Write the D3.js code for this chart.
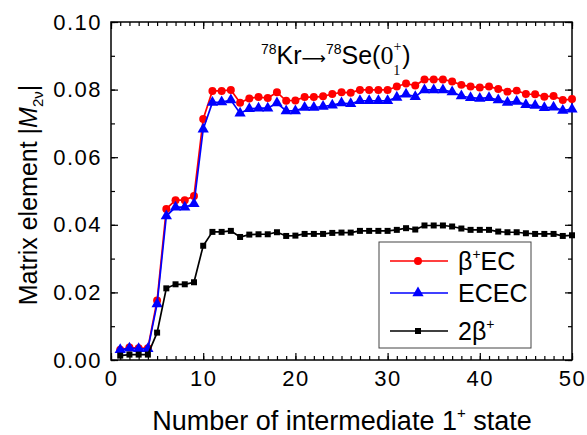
<!DOCTYPE html>
<head>
<meta charset="utf-8">
<title>78Kr matrix element</title>
<script src="https://d3js.org/d3.v7.min.js"></script>
<style>
  body { margin: 0; background: #fff; }
  text { font-family: "Liberation Sans", Arial, sans-serif; fill: #000; }
</style>
</head>
<body>
<div id="chart"></div>
<script>

// number of intermediate 1+ states
var states = [1,2,3,4,5,6,7,8,9,10,11,12,13,14,15,16,17,18,19,20,
  21,22,23,24,25,26,27,28,29,30,31,32,33,34,35,36,37,38,39,40,
  41,42,43,44,45,46,47,48,49,50];

var betaEC = [0.0030,0.0037,0.0035,0.0035,0.0176,0.0447,0.0473,0.0473,0.0485,0.0713,
  0.0796,0.0796,0.0799,0.0761,0.0774,0.0778,0.0775,0.0792,0.0767,0.0768,
  0.0778,0.0778,0.0780,0.0787,0.0792,0.0791,0.0799,0.0799,0.0799,0.0799,
  0.0809,0.0818,0.0812,0.0830,0.0830,0.0830,0.0824,0.0814,0.0809,0.0806,
  0.0809,0.0802,0.0794,0.0797,0.0787,0.0786,0.0779,0.0781,0.0769,0.0772];

var ecec = [0.0030,0.0035,0.0033,0.0033,0.0166,0.0426,0.0452,0.0452,0.0462,0.0683,
  0.0762,0.0763,0.0769,0.0730,0.0743,0.0745,0.0745,0.0760,0.0737,0.0737,
  0.0747,0.0747,0.0750,0.0754,0.0760,0.0758,0.0767,0.0767,0.0767,0.0767,
  0.0777,0.0786,0.0779,0.0799,0.0799,0.0799,0.0793,0.0781,0.0776,0.0774,
  0.0776,0.0769,0.0762,0.0765,0.0755,0.0753,0.0746,0.0748,0.0738,0.0742];

var twoBeta = [0.0013,0.0016,0.0016,0.0016,0.0081,0.0212,0.0224,0.0224,0.0230,0.0338,
  0.0379,0.0379,0.0382,0.0364,0.0371,0.0372,0.0372,0.0378,0.0367,0.0368,
  0.0373,0.0373,0.0373,0.0376,0.0377,0.0377,0.0382,0.0382,0.0382,0.0382,
  0.0385,0.0390,0.0386,0.0398,0.0398,0.0398,0.0395,0.0389,0.0385,0.0385,
  0.0385,0.0380,0.0378,0.0378,0.0375,0.0373,0.0373,0.0373,0.0367,0.0369];

var xTicks = [0,10,20,30,40,50];
var yTicks = [0.00,0.02,0.04,0.06,0.08,0.10];

var margin = {top: 22, right: 15, bottom: 75, left: 111},
    width = 587 - margin.left - margin.right,
    height = 435 - margin.top - margin.bottom;

var svg = d3.select("#chart")
  .append("svg")
    .attr("width", 587)
    .attr("height", 435)
  .append("g")
    .attr("transform", "translate(" + margin.left + "," + margin.top + ")");

var x = d3.scaleLinear().domain([0, 50]).range([0, width]);
var y = d3.scaleLinear().domain([0, 0.10]).range([height, 0]);

// minor ticks on all four sides
var xMinor = d3.range(0, 51, 1), yMinor = d3.range(0, 0.1001, 0.01);
svg.append("g").attr("transform", "translate(0," + height + ")")
  .call(d3.axisBottom(x).tickValues(xMinor).tickSize(-4).tickFormat(""));
svg.append("g")
  .call(d3.axisTop(x).tickValues(xMinor).tickSize(-4).tickFormat(""));
svg.append("g")
  .call(d3.axisLeft(y).tickValues(yMinor).tickSize(-4).tickFormat(""));
svg.append("g").attr("transform", "translate(" + width + ",0)")
  .call(d3.axisRight(y).tickValues(yMinor).tickSize(-4).tickFormat(""));

// major ticks
svg.append("g").attr("class", "major").attr("transform", "translate(0," + height + ")")
  .call(d3.axisBottom(x).tickValues(xTicks).tickSize(-7).tickPadding(10).tickFormat(d3.format("d")));
svg.append("g").attr("class", "major")
  .call(d3.axisLeft(y).tickValues(yTicks).tickSize(-7).tickPadding(9).tickFormat(d3.format(".2f")));
svg.append("g")
  .call(d3.axisTop(x).tickValues(xTicks).tickSize(-7).tickFormat(""));
svg.append("g").attr("transform", "translate(" + width + ",0)")
  .call(d3.axisRight(y).tickValues(yTicks).tickSize(-7).tickFormat(""));

svg.selectAll(".domain").remove();
svg.selectAll(".tick line").attr("stroke", "#000").attr("stroke-width", 1.2);
svg.selectAll(".major text")
  .style("font-size", "22px")
  .style("letter-spacing", "1.5px")
  .attr("fill", "#000");

svg.append("rect")
  .attr("width", width).attr("height", height)
  .attr("fill", "none").attr("stroke", "#000").attr("stroke-width", 1.5);

// series
var series = [
  {name: "beta", values: betaEC, color: "#ff0000", shape: d3.symbolCircle, size: 50},
  {name: "ecec", values: ecec, color: "#0000ff", shape: d3.symbolTriangle, size: 55},
  {name: "two", values: twoBeta, color: "#000000", shape: d3.symbolSquare, size: 36}
];

var line = d3.line()
  .x(function(d) { return x(d[0]); })
  .y(function(d) { return y(d[1]); });

series.forEach(function(s) {
  var pts = states.map(function(n, i) { return [n, s.values[i]]; });
  svg.append("path")
    .datum(pts)
    .attr("fill", "none")
    .attr("stroke", s.color)
    .attr("stroke-width", 1.7)
    .attr("d", line);
  svg.selectAll(".pt-" + s.name)
    .data(pts)
    .enter()
    .append("path")
      .attr("transform", function(d) { return "translate(" + x(d[0]) + "," + y(d[1]) + ")"; })
      .attr("d", d3.symbol().type(s.shape).size(s.size))
      .attr("fill", s.color);
});

// title
var title = svg.append("text")
  .attr("x", 261 - margin.left)
  .attr("y", 64 - margin.top)
  .style("font-size", "25px");
title.append("tspan").attr("dy", "-10").style("font-size", "14px").text("78");
title.append("tspan").attr("dy", "10").text("Kr");
title.append("tspan").style("font-family", "'DejaVu Sans', sans-serif").style("font-size", "17px").text("\u27f6");
title.append("tspan").attr("dy", "-10").style("font-size", "14px").text("78");
title.append("tspan").attr("dy", "10").text("Se(");
title.append("tspan").style("font-family", "'Liberation Serif', serif").style("font-size", "26px").text("0");
title.append("tspan").attr("dy", "-13").style("font-family", "'Liberation Serif', serif").style("font-size", "14px").text("+");
title.append("tspan").attr("dx", "-8").attr("dy", "24").style("font-family", "'Liberation Serif', serif").style("font-size", "14px").text("1");
title.append("tspan").attr("dx", "2").attr("dy", "-11").text(")");

// axis labels
var xl = svg.append("text")
  .attr("x", 342 - margin.left)
  .attr("y", 430 - margin.top)
  .attr("text-anchor", "middle")
  .style("font-size", "27px");
xl.append("tspan").text("Number of intermediate 1");
xl.append("tspan").attr("dy", "-12").style("font-size", "15px").text("+");
xl.append("tspan").attr("dy", "12").text(" state");

var yl = svg.append("text")
  .attr("transform", "translate(" + (37 - margin.left) + "," + (195 - margin.top) + ") rotate(-90)")
  .attr("text-anchor", "middle")
  .style("font-size", "25px");
yl.append("tspan").text("Matrix element |");
yl.append("tspan").style("font-style", "italic").text("M");
yl.append("tspan").attr("dy", "6").style("font-size", "15px").text("2\u03bd");
yl.append("tspan").attr("dy", "-6").text("|");

// legend
var lg = svg.append("g").attr("transform", "translate(" + (379 - margin.left) + "," + (242 - margin.top) + ")");
lg.append("rect")
  .attr("width", 152).attr("height", 106)
  .attr("fill", "#fff").attr("stroke", "#444").attr("stroke-width", 1);
var labels = [["\u03b2", "+", "EC"], ["ECEC", "", ""], ["2\u03b2", "+", ""]];
var rowY = [19, 51, 89];
series.forEach(function(s, i) {
  var r = lg.append("g").attr("transform", "translate(0," + rowY[i] + ")");
  r.append("line").attr("x1", 11).attr("x2", 69).attr("stroke", s.color).attr("stroke-width", 1.5);
  r.append("path").attr("transform", "translate(39,0)")
    .attr("d", d3.symbol().type(s.shape).size(s.size)).attr("fill", s.color);
  var t = r.append("text").attr("x", 79).attr("y", 9).style("font-size", "25px");
  t.append("tspan").text(labels[i][0]);
  if (labels[i][1]) {
    t.append("tspan").attr("dy", "-11").style("font-size", "14px").text(labels[i][1]);
    t.append("tspan").attr("dy", "11").text(labels[i][2]);
  }
});

</script>
</body>
